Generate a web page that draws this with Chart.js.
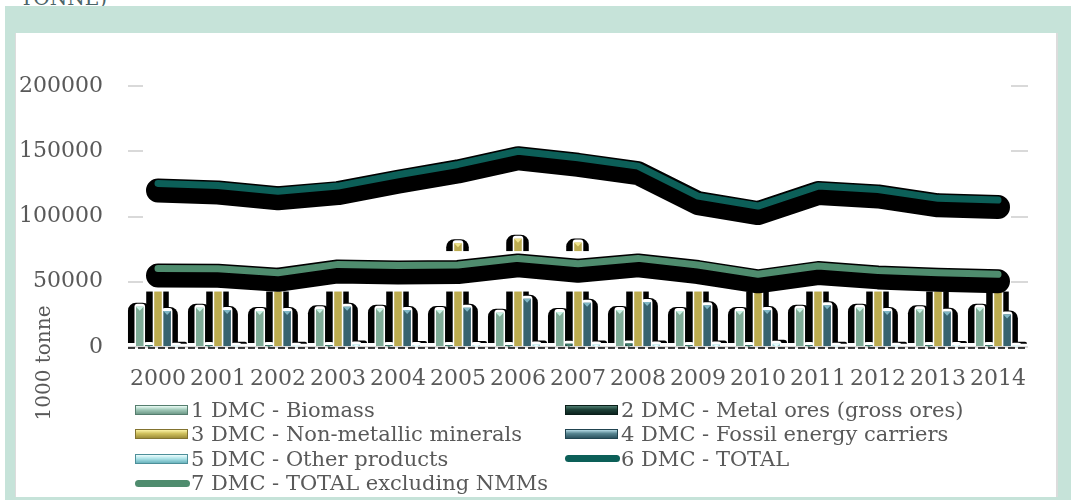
<!DOCTYPE html>
<html><head><meta charset="utf-8">
<script src="https://cdn.jsdelivr.net/npm/chart.js@4.4.1/dist/chart.umd.min.js"></script>
<style>
html,body{margin:0;padding:0;background:#fff;width:1071px;height:500px;overflow:hidden;position:relative;font-family:'DejaVu Serif',serif;color:#595959;}
.fr{position:absolute;background:#c6e3d9;}
#inner{position:absolute;left:15px;top:33px;width:1043px;height:464px;background:#fff;border-left:1px solid #dcdcdc;border-right:2px solid #dcdcdc;box-sizing:border-box;}
#cut{position:absolute;left:20px;top:-12px;font-size:20px;line-height:20px;color:#4b6468;white-space:nowrap;}
canvas{position:absolute;left:0;top:0;}
#ytitle{position:absolute;left:-27px;top:351px;width:140px;height:24px;line-height:24px;font-size:20px;text-align:center;transform:rotate(-90deg);color:#595959;white-space:nowrap;}
#legend{position:absolute;left:135px;top:398px;display:grid;grid-template-columns:430px auto;row-gap:0;}
.li{display:flex;align-items:center;height:24.3px;font-size:21px;color:#595959;white-space:nowrap;}
.sw{width:53px;height:10px;margin-right:3px;box-sizing:border-box;}
.ln{width:55px;height:7px;border-radius:4px;margin-right:1px;}
</style></head>
<body>
<div id="cut">TONNE)</div>
<div class="fr" style="left:5px;top:6px;width:1066px;height:27px"></div>
<div class="fr" style="left:5px;top:6px;width:10px;height:494px"></div>
<div class="fr" style="left:1058px;top:6px;width:13px;height:494px"></div>
<div class="fr" style="left:5px;top:497px;width:1066px;height:3px"></div>
<div id="inner"></div>
<canvas id="c" width="1071" height="500"></canvas>
<div id="ytitle">1000 tonne</div>
<div id="legend"></div>
<script>
// ---- data ----
const years = ['2000','2001','2002','2003','2004','2005','2006','2007','2008','2009','2010','2011','2012','2013','2014'];
const biomass = [30900,30100,27600,28900,29400,28300,26300,26800,28300,27600,27600,29400,30100,28900,30100];
const metalOres = [1500,1500,1500,1500,1500,1500,1500,2500,2700,1500,1500,1500,1500,1500,1500];
const nonMetallic = [64000,63000,62000,60000,69000,79500,83000,80000,70000,53000,52000,61000,62000,57000,57000];
const fossil = [27600,28300,27600,30900,28300,30100,37000,33900,34500,31900,28300,31900,27600,27100,25000];
const otherProducts = [1000,1000,1000,2000,1500,1500,2000,2000,2000,2000,2500,1000,1000,1500,1000];
const total = [125300,123800,119400,123300,132000,139900,150000,145000,138600,115600,108000,123300,120700,113900,112600];
const totalExclNMM = [60200,60000,56900,63300,62500,62800,67900,63800,67900,62800,55700,62000,58700,56900,55700];
const yTicks = [0,50000,100000,150000,200000];

const labels = ['1 DMC - Biomass','2 DMC - Metal ores (gross ores)','3 DMC - Non-metallic minerals','4 DMC - Fossil energy carriers','5 DMC - Other products','6 DMC - TOTAL','7 DMC - TOTAL excluding NMMs'];
const barColors = ['#7fab96','#1f4a40','#bcab4f','#37636f','#9fd3d8'];
const capColors = ['#c9f3e4','#3d7a6a','#efe28a','#7fb6c4','#e2fbfb'];
const swatchBg = [
 'linear-gradient(#eafcf5,#a3cbbb 45%,#6f9a88)',
 'linear-gradient(#4f7d70,#1d4138 45%,#0c241f)',
 'linear-gradient(#fbf3a6,#cfc05c 45%,#9d8e3a)',
 'linear-gradient(#b4d9e4,#55838f 45%,#2c5360)',
 'linear-gradient(#eefdfd,#ade3e8 45%,#6ab3bd)'];
const swatchBorder = ['#557d6e','#0a1e19','#827330','#214450','#4d8f99'];
const lineColors = ['#0c5f58','#4f8c6e'];

// legend (HTML text)
const lg = document.getElementById('legend');
labels.forEach((t,i)=>{
  const d = document.createElement('div'); d.className='li';
  const s = document.createElement('span');
  if (i<5){ s.className='sw'; s.style.background=swatchBg[i]; s.style.border='1px solid '+swatchBorder[i]; }
  else { s.className='ln'; s.style.background=lineColors[i-5]; }
  d.appendChild(s); d.appendChild(document.createTextNode(t)); lg.appendChild(d);
});

const fx = {
  id:'fx',
  beforeDatasetsDraw(chart){
    const {ctx, chartArea:a} = chart;
    chart.$banded = false;
    ctx.save();
    ctx.fillStyle='#fff';
    ctx.fillRect(a.left+15, a.top-3, a.right-a.left-32, a.bottom-a.top-1);
    const metas = chart.getSortedVisibleDatasetMetas().filter(m=>m.type==='bar');
    ctx.fillStyle='#000';
    metas.forEach(m=>m.data.forEach(el=>{
      const {x,y,base,width} = el.getProps(['x','y','base','width'],true);
      const l=x-width/2-8, r=x+width/2+7, t=y-4, b=base-3;
      ctx.beginPath(); ctx.roundRect(l,t,r-l,Math.max(2,b-t),[8,8,0,0]); ctx.fill();
    }));
    ctx.fillStyle='#fff';
    metas.forEach(m=>m.data.forEach(el=>{
      const {x,y,base,width} = el.getProps(['x','y','base','width'],true);
      ctx.beginPath(); ctx.roundRect(x-width/2-1.5,y-3,width+3,base-y+3,[3,3,0,0]); ctx.fill();
    }));
    ctx.restore();
  },
  afterDatasetDraw(chart,args){
    if (args.meta.type!=='bar') return;
    const ctx=chart.ctx; ctx.save();
    ctx.fillStyle=capColors[args.index];
    args.meta.data.forEach(el=>{
      const {x,y,base,width} = el.getProps(['x','y','base','width'],true);
      const h=Math.min(3,base-y);
      ctx.beginPath(); ctx.moveTo(x-width/2,y); ctx.lineTo(x+width/2,y); ctx.lineTo(x,y+h+1); ctx.closePath(); ctx.fill();
    });
    ctx.restore();
  },
  beforeDatasetDraw(chart,args){
    if (args.meta.type!=='line') return;
    const {ctx, chartArea:a, scales:{y}} = chart;
    ctx.save();
    if (!chart.$banded){
      chart.$banded = true;
      const t=y.getPixelForValue(73500), b=y.getPixelForValue(42500);
      ctx.fillStyle='#fff';
      ctx.fillRect(a.left+15,t,a.right-a.left-32,b-t);
    }
    const pts=args.meta.data;
    ctx.strokeStyle='#000'; ctx.lineWidth=24; ctx.lineCap='round'; ctx.lineJoin='round';
    ctx.beginPath();
    pts.forEach((p,i)=>{ if(i) ctx.lineTo(p.x,p.y+7); else ctx.moveTo(p.x,p.y+7); });
    ctx.stroke();
    ctx.restore();
  },
  afterDatasetsDraw(chart){
    const {ctx, chartArea:a} = chart;
    ctx.save();
    ctx.strokeStyle='#000'; ctx.lineWidth=1.5; ctx.setLineDash([7,3]);
    ctx.beginPath(); ctx.moveTo(a.left,a.bottom+1); ctx.lineTo(a.right,a.bottom+1); ctx.stroke();
    ctx.restore();
  }
};

const barSeries=[biomass,metalOres,nonMetallic,fossil,otherProducts];
const datasets = barSeries.map((d,i)=>({type:'bar',label:labels[i],data:d,backgroundColor:barColors[i],order:1,
  categoryPercentage:0.76,barPercentage:0.83}));
datasets.push({type:'line',label:labels[5],data:total,borderColor:lineColors[0],borderWidth:7,pointRadius:0,tension:0,order:0,borderCapStyle:'round',borderJoinStyle:'round'});
datasets.push({type:'line',label:labels[6],data:totalExclNMM,borderColor:lineColors[1],borderWidth:7,pointRadius:0,tension:0,order:0,borderCapStyle:'round',borderJoinStyle:'round'});

const font = {family:"'DejaVu Serif', serif", size:22};
new Chart(document.getElementById('c'),{
  data:{labels:years,datasets},
  options:{
    responsive:false,animation:false,
    layout:{padding:{left:0,right:43,top:86,bottom:0}},
    plugins:{legend:{display:false},tooltip:{enabled:false}},
    scales:{
      x:{grid:{display:false},border:{display:false},
         ticks:{font,color:'#595959',autoSkip:false,maxRotation:0,padding:11},
         afterFit(s){s.height=153;}},
      y:{min:0,max:200000,
         afterBuildTicks(s){s.ticks=yTicks.map(v=>({value:v}));},
         grid:{color:'#d9d9d9',lineWidth:2,drawTicks:false},border:{display:false},
         ticks:{font,color:'#595959',padding:25,callback:v=>String(v)},
         afterFit(s){s.width=128;}}
    }
  },
  plugins:[fx]
});
</script>
</body></html>
